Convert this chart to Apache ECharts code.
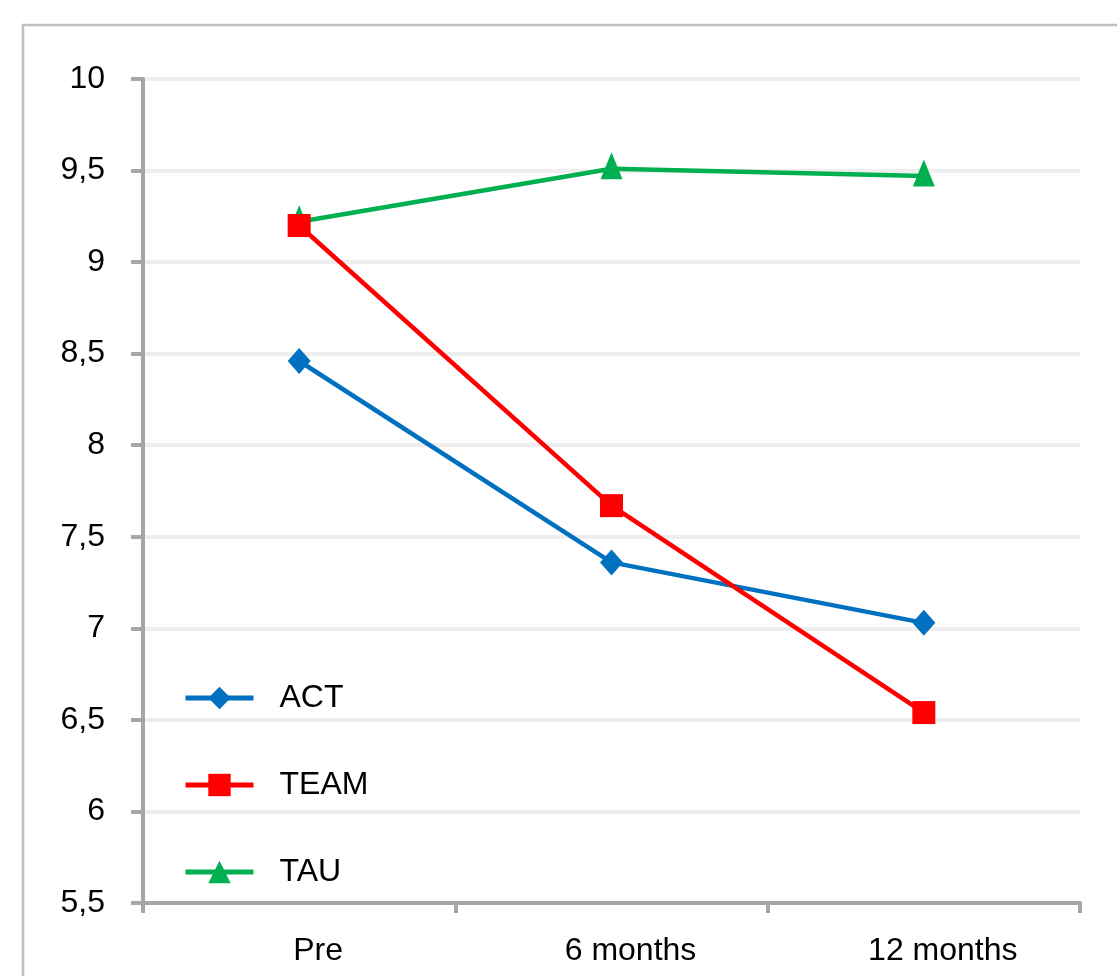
<!DOCTYPE html>
<html>
<head>
<meta charset="utf-8">
<script src="https://cdn.jsdelivr.net/npm/echarts@6/dist/echarts.min.js"></script>
<style>
  html, body { margin: 0; padding: 0; background: #fff; }
  #chart { width: 1117px; height: 976px; }
</style>
</head>
<body>
<div id="chart"></div>
<script>
// data
const categories = ['Pre', '6 months', '12 months'];
const actValues = [8.46, 7.36, 7.03];
const teamValues = [9.20, 7.67, 6.54];
const tauValues = [9.22, 9.51, 9.47];

const chart = echarts.init(document.getElementById('chart'));

const axisGrey = '#a6a6a6';
const font = '"Liberation Sans", Arial, sans-serif';

let option = {
  animation: false,
  textStyle: { fontFamily: font },
  graphic: [{
    type: 'rect',
    shape: { x: 23, y: 25, width: 1200, height: 1000 },
    style: { fill: 'none', stroke: '#bfbfbf', lineWidth: 2.5 },
    silent: true
  }],
  grid: { left: 143, right: 37, top: 79, bottom: 73 },
  legend: {
    orient: 'vertical',
    left: 183,
    top: 682,
    padding: 0,
    itemWidth: 68,
    itemHeight: 28,
    itemGap: 55,
    lineStyle: { width: 5 },
    textStyle: {
      fontSize: 32, color: '#000', fontFamily: font,
      lineHeight: 28, padding: [0, 0, 0, 21]
    },
    data: ['ACT', 'TEAM', 'TAU']
  },
  xAxis: {
    type: 'category',
    boundaryGap: true,
    data: categories,
    axisLine: { lineStyle: { color: axisGrey, width: 4 } },
    axisTick: { show: true, length: 10, lineStyle: { color: axisGrey, width: 4 } },
    axisLabel: {
      color: '#000', fontSize: 32, margin: 32,
      padding: [0, 0, 0, 38]
    }
  },
  yAxis: {
    type: 'value',
    min: 5.5,
    max: 10,
    interval: 0.5,
    axisLine: { show: true, lineStyle: { color: axisGrey, width: 4 } },
    axisTick: { show: true, length: 12, lineStyle: { color: axisGrey, width: 4 } },
    splitLine: { lineStyle: { color: '#eeeeee', width: 4 } },
    axisLabel: {
      color: '#000', fontSize: 32, margin: 38,
      formatter: v => String(v).replace('.', ',')
    }
  },
  series: [
    {
      name: 'ACT',
      type: 'line',
      data: actValues,
      z: 3,
      symbol: 'diamond',
      symbolSize: [23, 26],
      lineStyle: { color: '#0070c0', width: 4.5 },
      itemStyle: { color: '#0070c0' }
    },
    {
      name: 'TEAM',
      type: 'line',
      data: teamValues,
      z: 4,
      symbol: 'rect',
      symbolSize: 23,
      lineStyle: { color: '#ff0000', width: 4.5 },
      itemStyle: { color: '#ff0000' }
    },
    {
      name: 'TAU',
      type: 'line',
      data: tauValues,
      z: 2,
      symbol: 'triangle',
      symbolSize: [22, 27],
      symbolOffset: [0, -3],
      lineStyle: { color: '#00b050', width: 4.5 },
      itemStyle: { color: '#00b050' }
    }
  ]
};
chart.setOption(option);
</script>
</body>
</html>
